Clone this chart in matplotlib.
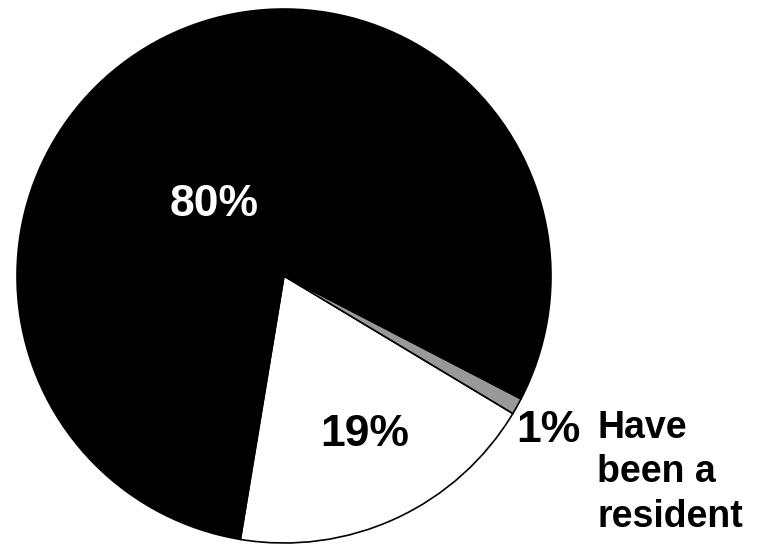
import matplotlib.pyplot as plt

# slice data (counter-clockwise order starting at the bottom)
shares = [19, 1, 80]
colors = ['white', '#999999', 'black']
pct_labels = ['%d%%' % v for v in shares]
side_label = 'Have\nbeen a\nresident'

plt.rcParams['font.family'] = ['Liberation Sans', 'DejaVu Sans']

fig = plt.figure(figsize=(7.66, 5.45), dpi=100)
ax = fig.add_axes([0, 0, 1, 1])

# pie placed in pixel-like units
ax.pie(shares, colors=colors, startangle=-99.4, counterclock=True,
       center=(284, 269), radius=267, frame=True,
       wedgeprops=dict(edgecolor='black', linewidth=1.2))
ax.set_xlim(0, 766)
ax.set_ylim(0, 545)
ax.axis('off')

ax.text(214, 341, pct_labels[2], color='white', fontsize=32,
        fontweight='bold', ha='center', va='center')
ax.text(365, 110, pct_labels[0], color='black', fontsize=32,
        fontweight='bold', ha='center', va='center')
ax.text(548, 115, pct_labels[1], color='black', fontsize=32,
        fontweight='bold', ha='center', va='center')
ax.text(597, 135, side_label, color='black', fontsize=27,
        fontweight='bold', ha='left', va='top', linespacing=1.3)

fig.savefig('out.png', dpi=100)
